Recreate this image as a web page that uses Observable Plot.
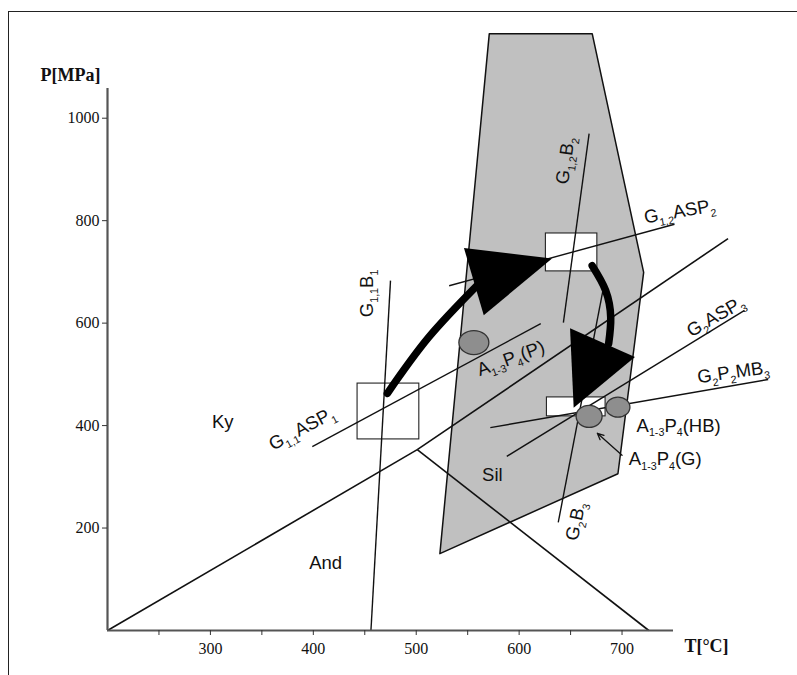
<!DOCTYPE html>
<html><head><meta charset="utf-8">
<script src="https://cdn.jsdelivr.net/npm/d3@7"></script>
<script src="https://cdn.jsdelivr.net/npm/@observablehq/plot@0.6"></script>
<style>
html,body{margin:0;padding:0;background:#fff;}
#wrap{position:relative;width:797px;height:675px;overflow:hidden;background:#fff;}
#chart{position:absolute;left:0;top:0;}
#frame{position:absolute;left:8px;top:11px;width:820px;height:700px;border-top:1.5px solid #222;border-left:1.5px solid #222;box-sizing:border-box;pointer-events:none;}
</style></head><body>
<div id="wrap"><div id="chart"></div><div id="frame"></div></div>
<script>
// ---- data (T in °C, P in MPa) ----
const xTicks = [250, 300, 350, 400, 450, 500, 550, 600, 650, 700];
const xTickLabels = [300, 400, 500, 600, 700];
const yTicks = [200, 400, 600, 800, 1000];

const field = [
  {T: 571, P: 1165}, {T: 671, P: 1165}, {T: 721, P: 699}, {T: 696, P: 306}, {T: 523, P: 150}
];

const aluminosilicate = [
  {name: "Ky-And",  T1: 200, P1: 0,   T2: 501, P2: 353},
  {name: "Ky-Sil",  T1: 501, P1: 353, T2: 803, P2: 765},
  {name: "And-Sil", T1: 501, P1: 353, T2: 726, P2: 0}
];

const isopleths = [
  {name: "G1,1B1",   T1: 475, P1: 683, T2: 456, P2: 0},
  {name: "G1,1ASP1", T1: 399, P1: 359, T2: 621, P2: 599},
  {name: "G1,2B2",   T1: 668, P1: 970, T2: 643, P2: 601},
  {name: "G1,2ASP2", T1: 532, P1: 673, T2: 751, P2: 793},
  {name: "G2B3",     T1: 638, P1: 211, T2: 682, P2: 670},
  {name: "G2ASP3",   T1: 588, P1: 340, T2: 819, P2: 625},
  {name: "G2P2MB3",  T1: 572, P1: 396, T2: 842, P2: 490}
];

const boxes = [
  {T1: 443, T2: 503, P1: 373, P2: 482},
  {T1: 626, T2: 676, P1: 701, P2: 775},
  {T1: 627, T2: 684, P1: 418, P2: 455}
];

const samples = [
  {name: "A1-3P4(P)",  T: 556, P: 562},
  {name: "A1-3P4(G)",  T: 668, P: 418},
  {name: "A1-3P4(HB)", T: 696, P: 436}
];

const path1 = [{T: 472, P: 463}, {T: 512, P: 572}, {T: 560, P: 675}];
const path2 = [{T: 671, P: 712}, {T: 684, P: 664}, {T: 689, P: 611}, {T: 687, P: 560}];
const heads = [
  {baseT: 556, baseP: 681, tipT: 632, tipP: 726},
  {baseT: 681, baseP: 562, tipT: 653, tipP: 435}
];
const pointer = [{T1: 700, P1: 342, T2: 676, P2: 385}];

const labels = [
  {text: "Ky", T: 312, P: 406},
  {text: "And", T: 412, P: 131},
  {text: "Sil", T: 574, P: 303},
  {text: "G{1,1}ASP{1}", T: 389, P: 394},
  {text: "G{1,1}B{1}", T: 452, P: 658},
  {text: "G{1,2}B{2}", T: 645, P: 917},
  {text: "G{2}B{3}", T: 655, P: 213},
  {text: "G{1,2}ASP{2}", T: 756, P: 818},
  {text: "G{2}ASP{3}", T: 791, P: 613},
  {text: "G{2}P{2}MB{3}", T: 808, P: 504},
  {text: "A{1-3}P{4}(P)", T: 592, P: 531},
  {text: "A{1-3}P{4}(HB)", T: 755, P: 400},
  {text: "A{1-3}P{4}(G)", T: 742, P: 334}
];

// ---- styles ----
const labelRotate = [0, 0, 0, -28, -90, -82, -78, -10, -30, -8, -20, 0, 0];
const ellipseSize = [[15, 12], [13, 11], [12, 10]];
const headWidth = [70, 71];
const W = 797, H = 675, ML = 107, MR = 124, MT = 88, MB = 45;
const xDomain = [200, 750], yDomain = [0, 1058];
const LABEL_SIZE = 18.5;

const xS = d3.scaleLinear(xDomain, [ML, W - MR]);
const yS = d3.scaleLinear(yDomain, [H - MB, MT]);

function triangle(h, width) {
  const x0 = xS(h.baseT), y0 = yS(h.baseP), x1 = xS(h.tipT), y1 = yS(h.tipP);
  const L = Math.hypot(x1 - x0, y1 - y0), a = Math.atan2(y1 - y0, x1 - x0);
  const c = Math.cos(a), s = Math.sin(a);
  const pt = (u, v) => [u * c - v * s, u * s + v * c];
  return {draw(ctx) {
    const p0 = pt(0, 0), p1 = pt(-L, -width / 2), p2 = pt(-L, width / 2);
    ctx.moveTo(p0[0], p0[1]); ctx.lineTo(p1[0], p1[1]); ctx.lineTo(p2[0], p2[1]); ctx.closePath();
  }};
}
function ellipse(rx, ry) {
  const k = 0.5522847498;
  return {draw(ctx) {
    ctx.moveTo(rx, 0);
    ctx.bezierCurveTo(rx, k * ry, k * rx, ry, 0, ry);
    ctx.bezierCurveTo(-k * rx, ry, -rx, k * ry, -rx, 0);
    ctx.bezierCurveTo(-rx, -k * ry, -k * rx, -ry, 0, -ry);
    ctx.bezierCurveTo(k * rx, -ry, rx, -k * ry, rx, 0);
    ctx.closePath();
  }};
}

const serif = "'Liberation Serif', 'Times New Roman', serif";
const chart = Plot.plot({
  width: W, height: H,
  marginLeft: ML, marginRight: MR, marginTop: MT, marginBottom: MB,
  x: {domain: xDomain},
  y: {domain: yDomain},
  style: {fontFamily: "'Liberation Sans', Arial, sans-serif", fontSize: LABEL_SIZE + "px", background: "transparent", overflow: "visible", color: "#111"},
  marks: [
    Plot.line(field, {x: "T", y: "P", curve: "linear-closed", fill: "#c0c0c0", stroke: "#111", strokeWidth: 1.5}),
    Plot.link(aluminosilicate, {x1: "T1", y1: "P1", x2: "T2", y2: "P2", stroke: "#111", strokeWidth: 1.6}),
    Plot.rect(boxes, {x1: "T1", x2: "T2", y1: "P1", y2: "P2", fill: "white", stroke: "#222", strokeWidth: 1.1}),
    Plot.link(isopleths, {x1: "T1", y1: "P1", x2: "T2", y2: "P2", stroke: "#111", strokeWidth: 1.4}),
    Plot.arrow(pointer, {x1: "T1", y1: "P1", x2: "T2", y2: "P2", stroke: "#111", strokeWidth: 1.3, headLength: 8, headAngle: 50}),
    Plot.line(path1, {x: "T", y: "P", curve: "natural", stroke: "black", strokeWidth: 7.5}),
    Plot.line(path2, {x: "T", y: "P", curve: "natural", stroke: "black", strokeWidth: 7.5}),
    ...heads.map((h, i) => Plot.dot([h], {x: "tipT", y: "tipP", symbol: triangle(h, headWidth[i]), fill: "black", stroke: "none"})),
    ...samples.map((s, i) => Plot.dot([s], {x: "T", y: "P", symbol: ellipse(...ellipseSize[i]), fill: "#8e8e8e", stroke: "#333", strokeWidth: 1.3})),
    Plot.ruleX([xDomain[0]], {stroke: "#555", strokeWidth: 2.2}),
    Plot.ruleY([yDomain[0]], {stroke: "#555", strokeWidth: 2.2}),
    Plot.axisX({ticks: xTicks, tickFormat: d => xTickLabels.includes(d) ? String(d) : "", tickSize: 5, tickPadding: 7, fontFamily: serif, fontSize: 16, label: null, stroke: "#333"}),
    Plot.axisY({ticks: yTicks, tickFormat: d => String(d), tickSize: 5, tickPadding: 3, fontFamily: serif, fontSize: 16, label: null, stroke: "#333"}),
    Plot.text(["P[MPa]"], {frameAnchor: "top-left", dx: -37, dy: -20, text: d => d, fontFamily: serif, fontWeight: "bold", fontSize: 18, textAnchor: "middle"}),
    Plot.text(["T[°C]"], {frameAnchor: "bottom-right", dx: 33, dy: 21, text: d => d, fontFamily: serif, fontWeight: "bold", fontSize: 18, textAnchor: "middle"}),
    Plot.text(labels, {x: "T", y: "P", text: "text", rotate: (d, i) => labelRotate[i], fontSize: LABEL_SIZE, textAnchor: "middle", lineAnchor: "middle", fill: "#111"})
  ]
});

// subscripts: {..} -> real tspans
const SUB = 0.58, SHIFT = 5;
chart.querySelectorAll("text").forEach(t => {
  const s = t.textContent;
  if (!s.includes("{")) return;
  const parts = s.split(/\{([^}]*)\}/);
  t.textContent = "";
  let shifted = false;
  parts.forEach((p, i) => {
    if (p === "") { return; }
    const ts = document.createElementNS("http://www.w3.org/2000/svg", "tspan");
    ts.textContent = p;
    if (i % 2 === 1) {
      ts.setAttribute("font-size", (LABEL_SIZE * SUB).toFixed(1));
      if (!shifted) { ts.setAttribute("dy", SHIFT); shifted = true; }
    } else if (shifted) {
      ts.setAttribute("dy", -SHIFT); shifted = false;
    }
    t.appendChild(ts);
  });
});

document.getElementById("chart").appendChild(chart);
</script>
</body></html>
